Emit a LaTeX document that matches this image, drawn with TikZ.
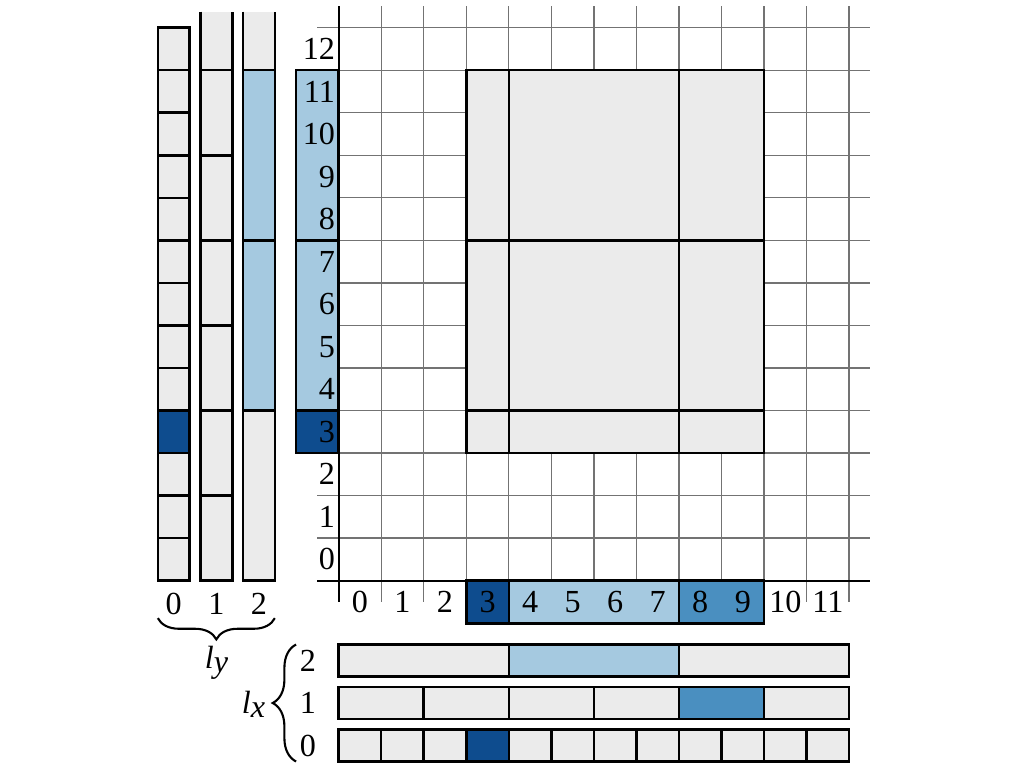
\documentclass[tikz,border=0pt]{standalone}
\usepackage{fontspec}
\setmainfont{Liberation Serif}
\usetikzlibrary{decorations.pathreplacing}
\definecolor{cellgray}{HTML}{EBEBEB}
\definecolor{lightblue}{HTML}{A5C9E0}
\definecolor{midblue}{HTML}{4A8FC0}
\definecolor{darkblue}{HTML}{0E4C8E}
\newcommand{\lvar}[1]{\textit{l}\raisebox{-3pt}{\textit{#1}}}
\tikzset{
  gridline/.style={draw=gray!90!black, line width=0.9pt},
  axisline/.style={draw=black, line width=1.4pt},
  cellbox/.style={draw=black, line width=1.7pt, fill=cellgray},
  opencell/.style={draw=black, line width=1.7pt},
  numlabel/.style={font=\fontsize{21.5}{24}\selectfont, inner sep=0pt},
  curlybrace/.style={decorate, decoration={brace, amplitude=0.5cm}, line width=1.4pt},
}
\begin{document}
\begin{tikzpicture}
\useasboundingbox (-7.96,-4.40) rectangle (16.11,13.65);
\draw[gridline] (-0.5,-0.5) grid (12.5,13.5);%格子
\draw[axisline] (-0.5,0) -- (12.5,0);
\draw[axisline] (0,-0.5) -- (0,13.5);
\foreach \xa/\xb in {3/4, 4/8, 8/10}
  \foreach \ya/\yb in {3/4, 4/8, 8/12}
    \draw[cellbox] (\xa,\ya) rectangle (\xb,\yb);%ブロック
\foreach \ya/\yb/\c in {3/4/darkblue, 4/8/lightblue, 8/12/lightblue}
  \draw[cellbox, fill=\c] (-1,\ya) rectangle (0,\yb);
\foreach \xa/\xb/\c in {3/4/darkblue, 4/8/lightblue, 8/10/midblue}
  \draw[cellbox, fill=\c] (\xa,-1) rectangle (\xb,0);
\foreach \i in {0,...,11}
  \node[numlabel] (col\i) at (\i+0.5,-0.5) {\i};
\foreach \j in {0,...,12}
  \node[numlabel, anchor=east] (row\j) at (-0.08,\j+0.5) {\j};
% l_x
\foreach \x in {0,...,11}
  \draw[cellbox] (\x,-4.25) rectangle ++(1,0.75);
\draw[cellbox, fill=darkblue] (3,-4.25) rectangle ++(1,0.75);
\foreach \x in {0,2,...,10}
  \draw[cellbox] (\x,-3.25) rectangle ++(2,0.75);
\draw[cellbox, fill=midblue] (8,-3.25) rectangle ++(2,0.75);
\foreach \x/\c in {0/cellgray, 4/lightblue, 8/cellgray}
  \draw[cellbox, fill=\c] (\x,-2.25) rectangle ++(4,0.75);
\foreach \k in {0,1,2}
  \node[numlabel] (lx\k) at (-0.72,-3.875+\k) {\k};
% l_y
\foreach \y in {0,...,12}
  \draw[cellbox] (-4.25,\y) rectangle ++(0.75,1);
\draw[cellbox, fill=darkblue] (-4.25,3) rectangle ++(0.75,1);
\foreach \y in {0,2,...,10}
  \draw[cellbox] (-3.25,\y) rectangle ++(0.75,2);
\foreach \y/\c in {0/cellgray, 4/lightblue, 8/lightblue}
  \draw[cellbox, fill=\c] (-2.25,\y) rectangle ++(0.75,4);
\foreach \x in {-3.25,-2.25} {
  \fill[cellgray] (\x,12) rectangle ++(0.75,1.375);
  \draw[opencell] (\x,13.375) -- (\x,12) -- ++(0.75,0) -- ++(0,1.375);
}%上は開いたまま
\foreach \k in {0,1,2}
  \node[numlabel] (ly\k) at (-3.875+\k,-0.55) {\k};
% 括弧
\coordinate (lyR) at (-1.5,-0.88);
\coordinate (lyL) at (-4.25,-0.88);
\coordinate (lxB) at (-1.0,-4.25);
\coordinate (lxT) at (-1.0,-1.5);
\draw[curlybrace] (lyR) -- (lyL);
\draw[curlybrace, decoration={amplitude=0.55cm}] (lxB) -- (lxT);
\node[numlabel, anchor=base] (lyname) at (-2.87,-2.06) {\lvar{y}};
\node[numlabel, anchor=base] (lxname) at (-2.0,-3.12) {\lvar{x}};
\end{tikzpicture}
\end{document}
